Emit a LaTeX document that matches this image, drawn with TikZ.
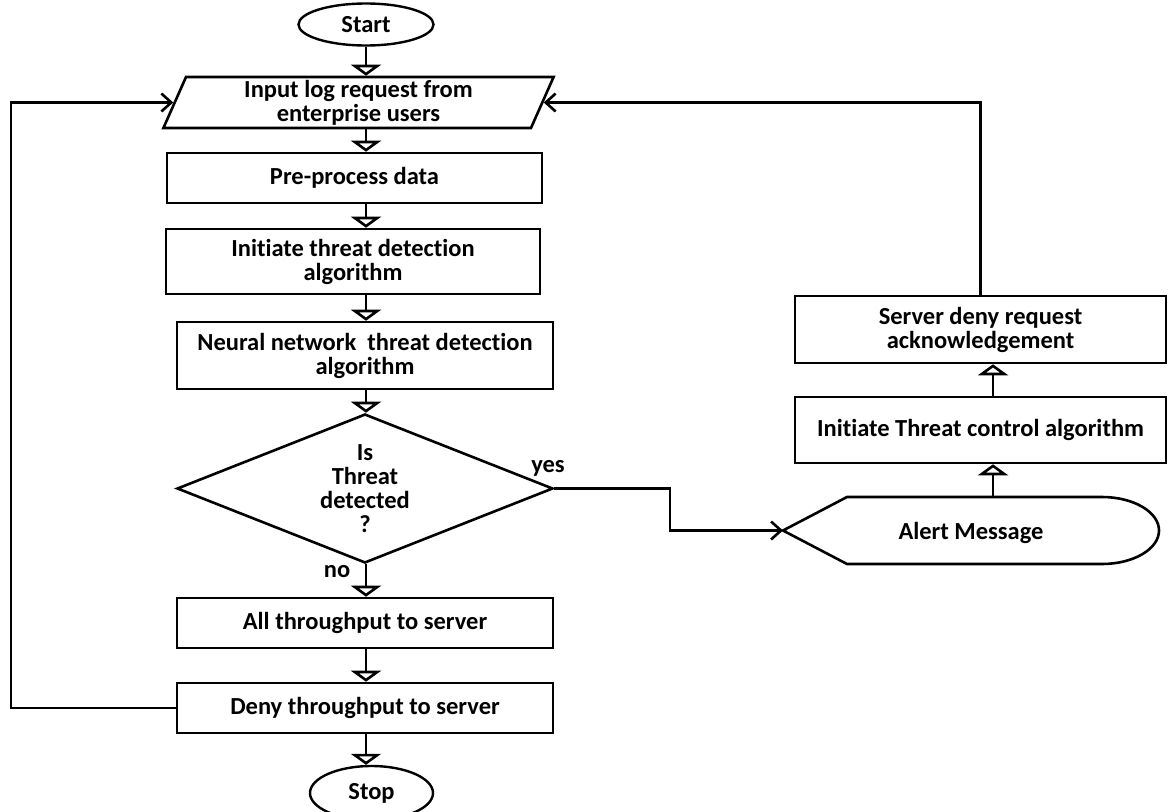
\documentclass[tikz,border=0pt]{standalone}
\usepackage{fontspec}
\setmainfont{Carlito}[Ligatures=NoCommon]
\usetikzlibrary{shapes.geometric,arrows.meta}
\begin{document}
\begin{tikzpicture}[x=1pt,y=-1pt,
  every node/.style={font=\fontsize{24.5}{24}\selectfont\bfseries},
  box/.style={draw, line width=2.6pt, rectangle, inner sep=0pt, align=center},
  term/.style={draw, line width=2.4pt, ellipse, inner sep=0pt},
  tri/.style={line width=2.6pt, -{Triangle[open,length=11pt,width=30pt]}},
  barb/.style={line width=2.6pt, -{Straight Barb[length=10pt,width=18pt]}},
  lbl/.style={inner sep=0pt}
]
\useasboundingbox (0,0) rectangle (1169,811);
\coordinate (col) at (366,0);
\coordinate (bend) at (670,0);
\coordinate (lx) at (11,0);

% main column
\node[term, minimum width=135pt, minimum height=42pt] (start) at (366,24.5) {\raisebox{-4pt}{Start}};
\node[draw, line width=2.6pt, trapezium, trapezium left angle=71.6, trapezium right angle=108.4,
      trapezium stretches=true, minimum width=391pt, minimum height=51pt, inner sep=0pt, align=center]
      (input) at (358.5,102.5) {Input log request from\\enterprise users};
\node[box, minimum width=375pt, minimum height=50pt] (pre) at (354.5,178) {Pre-process data};
\node[box, minimum width=374pt, minimum height=65pt] (init) at (353,261.5) {Initiate threat detection\\algorithm};
\node[box, minimum width=376pt, minimum height=67pt] (nn) at (365,355.5) {Neural network\ \ threat detection\\algorithm};
\node[draw, line width=2.6pt, diamond, aspect=2.52, inner sep=0pt, minimum width=376pt, minimum height=149pt, align=center]
      (dia) at (365,488.5) {Is\\Threat\\detected\\?};
\node[box, minimum width=376pt, minimum height=50pt] (all) at (365,623) {All throughput to server};
\node[box, minimum width=376pt, minimum height=50pt] (deny) at (365,708) {Deny throughput to server};
\node[term, minimum width=123pt, minimum height=54pt] (stop) at (371.5,793) {Stop};

% right column
\node[box, minimum width=371pt, minimum height=67pt] (server) at (980.5,329.5) {Server deny request\\acknowledgement};
\node[box, minimum width=371pt, minimum height=66pt] (ctrl) at (980.5,430) {Initiate Threat control algorithm};
\draw[line width=2.6pt] (783,530.5) -- (847,497) -- (1102,497)
   arc[start angle=90, end angle=-90, x radius=57pt, y radius=33.5pt] -- (847,564) -- cycle;
\node (alert) at (971,533) {Alert Message};
\coordinate (alertW) at (783,530.5);
\coordinate (alertN) at (993,497);

% labels
\node[lbl] at (548,468) {yes};
\node[lbl] at (337,572) {no};

% main column connectors
\draw[tri] (start.south -| col) -- (input.north -| col);
\draw[tri] (input.south -| col) -- (pre.north -| col);
\draw[tri] (pre.south -| col) -- (init.north -| col);
\draw[tri] (init.south -| col) -- (nn.north -| col);
\draw[tri] (nn.south -| col) -- (dia.north -| col);
\draw[tri] (dia.south -| col) -- (all.north -| col);
\draw[tri] (all.south -| col) -- (deny.north -| col);
\draw[tri] (deny.south -| col) -- (stop.north -| col);

% yes branch
\draw[barb] (dia.east) -- (dia.east -| bend) |- (alertW);
\draw[tri] (alertN) -- (alertN |- ctrl.south);
\draw[tri] (ctrl.north -| alertN) -- (alertN |- server.south);

% loops back to input
\draw[barb] (server.north) |- (input.right side);
\draw[barb] (deny.west) -- (deny.west -| lx) |- (input.left side);
\end{tikzpicture}
\end{document}
